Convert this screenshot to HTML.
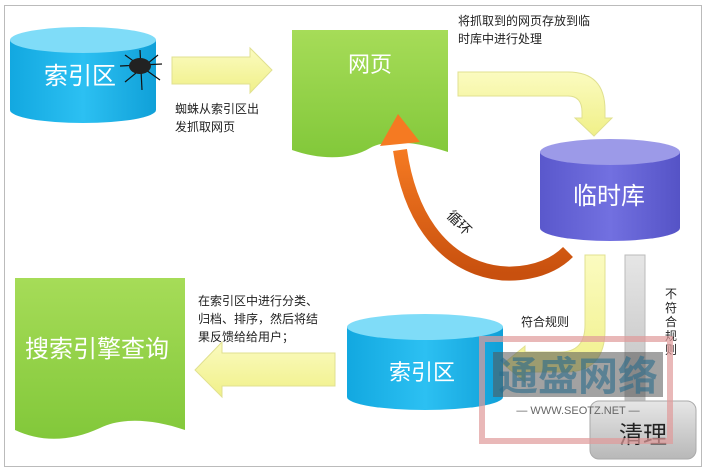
<!DOCTYPE html>
<html><head><meta charset="utf-8"><style>
body{margin:0;background:#fff;}
svg{display:block;font-family:"Liberation Sans","Noto Sans CJK SC",sans-serif;}
</style></head><body>
<svg width="706" height="474" viewBox="0 0 706 474">
<defs>
<linearGradient id="cy" x1="0" x2="1"><stop offset="0" stop-color="#12a8e0"/><stop offset=".5" stop-color="#2cc0f2"/><stop offset="1" stop-color="#10a0d8"/></linearGradient>
<linearGradient id="pu" x1="0" x2="1"><stop offset="0" stop-color="#5a58cc"/><stop offset=".5" stop-color="#7270e0"/><stop offset="1" stop-color="#5553c6"/></linearGradient>
<linearGradient id="gr" x1="0" y1="0" x2="0" y2="1"><stop offset="0" stop-color="#a6dc58"/><stop offset="1" stop-color="#82c83a"/></linearGradient>
<linearGradient id="ye" x1="0" y1="0" x2="0" y2="1"><stop offset="0" stop-color="#fbfbc0"/><stop offset="1" stop-color="#f0f088"/></linearGradient>
<linearGradient id="or" x1="0" y1="1" x2="0" y2="0"><stop offset="0" stop-color="#c8500e"/><stop offset="1" stop-color="#f57a22"/></linearGradient>
<linearGradient id="gy" x1="0" y1="0" x2="0" y2="1"><stop offset="0" stop-color="#e6e6e6"/><stop offset="1" stop-color="#b8b8b8"/></linearGradient>
</defs>
<rect x="4.5" y="5.5" width="697" height="461" fill="#fff" stroke="#bbb"/>

<!-- cylinder 1 -->
<path d="M10 40 V110 A73 13 0 0 0 156 110 V40 Z" fill="url(#cy)"/>
<ellipse cx="83" cy="40" rx="73" ry="13" fill="#7fdcf8"/>
<text x="80" y="84" font-size="24" fill="#fff" text-anchor="middle">索引区</text>
<!-- spider -->
<g stroke="#111" stroke-width="1.2">
<line x1="125" y1="55" x2="160" y2="80"/><line x1="158" y1="55" x2="125" y2="82"/><line x1="140" y1="50" x2="142" y2="90"/><line x1="120" y1="66" x2="162" y2="64"/>
</g>
<ellipse cx="140" cy="66" rx="11" ry="8" fill="#222"/>

<!-- arrow right -->
<polygon points="172,57 250,57 250,48 272,70 250,93 250,84 172,84" fill="url(#ye)" stroke="#e0e090"/>
<text font-size="12" fill="#222"><tspan x="175" y="113">蜘蛛从索引区出</tspan><tspan x="175" y="131">发抓取网页</tspan></text>

<!-- web page doc -->
<path d="M292 30 H448 V152 C410 140 385 140 370 148 C350 160 320 160 292 150 Z" fill="url(#gr)"/>
<text x="370" y="72" font-size="22" fill="#fff" text-anchor="middle">网页</text>
<text font-size="12" fill="#222"><tspan x="458" y="25">将抓取到的网页存放到临</tspan><tspan x="458" y="43">时库中进行处理</tspan></text>

<!-- elbow arrow to temp -->
<path d="M458 72 H568 Q605 72 605 110 V118 H612 L594 136 L575 118 H582 V112 Q582 96 568 96 H458 Z" fill="url(#ye)" stroke="#e0e090"/>

<!-- temp cylinder -->
<path d="M540 152 V228 A70 13 0 0 0 680 228 V152 Z" fill="url(#pu)"/>
<ellipse cx="610" cy="152" rx="70" ry="13" fill="#9c9ae8"/>
<text x="609" y="204" font-size="24" fill="#fff" text-anchor="middle">临时库</text>

<!-- orange loop -->
<path d="M568 252 C530 290 420 290 400 150" fill="none" stroke="url(#or)" stroke-width="14"/>
<polygon points="380,146 398,114 420,142" fill="#f57a22"/>
<text x="460" y="228" font-size="14" fill="#222" transform="rotate(45 460 222)" text-anchor="middle">循环</text>

<!-- elbow down-left to index -->
<path d="M585 255 H605 V330 Q605 372 565 372 H525 V382 L503 364 L525 346 V352 H560 Q585 352 585 325 Z" fill="url(#ye)" stroke="#e0e090"/>
<text x="545" y="326" font-size="12" fill="#222" text-anchor="middle">符合规则</text>

<!-- gray arrow -->
<polygon points="625,255 645,255 645,408 655,408 635,432 615,408 625,408" fill="url(#gy)" stroke="#bbb"/>
<text font-size="12" fill="#222" text-anchor="middle"><tspan x="671" y="298">不</tspan><tspan x="671" y="312">符</tspan><tspan x="671" y="326">合</tspan><tspan x="671" y="340">规</tspan><tspan x="671" y="354">则</tspan></text>

<!-- index cylinder 2 -->
<path d="M347 327 V397 A78 13 0 0 0 503 397 V327 Z" fill="url(#cy)"/>
<ellipse cx="425" cy="327" rx="78" ry="13" fill="#7fdcf8"/>
<text x="422" y="380" font-size="22" fill="#fff" text-anchor="middle">索引区</text>

<!-- left arrow -->
<polygon points="335,353 222,353 222,342 195,370 222,397 222,386 335,386" fill="url(#ye)" stroke="#e0e090"/>
<text font-size="12" fill="#222"><tspan x="198" y="305">在索引区中进行分类、</tspan><tspan x="198" y="323">归档、排序，然后将结</tspan><tspan x="198" y="341">果反馈给给用户；</tspan></text>

<!-- search doc -->
<path d="M15 278 H185 V430 C150 418 120 418 100 428 C70 442 40 442 15 430 Z" fill="url(#gr)"/>
<text x="97" y="357" font-size="24" fill="#fff" text-anchor="middle">搜索引擎查询</text>

<!-- clean -->
<rect x="590" y="401" width="106" height="58" rx="9" fill="url(#gy)" stroke="#aaa"/>
<text x="643" y="443" font-size="24" fill="#222" text-anchor="middle">清理</text>

<!-- watermark -->
<rect x="482" y="339" width="188" height="102" fill="none" stroke="#e09a9a" stroke-opacity=".7" stroke-width="6"/>
<rect x="493" y="352" width="170" height="45" fill="#555" opacity=".55"/>
<text x="578" y="390" font-size="40" font-weight="bold" fill="#2a6a8a" fill-opacity=".6" text-anchor="middle">通盛网络</text>
<text x="578" y="414" font-size="11" fill="#666" text-anchor="middle">— WWW.SEOTZ.NET —</text>
</svg>
</body></html>
